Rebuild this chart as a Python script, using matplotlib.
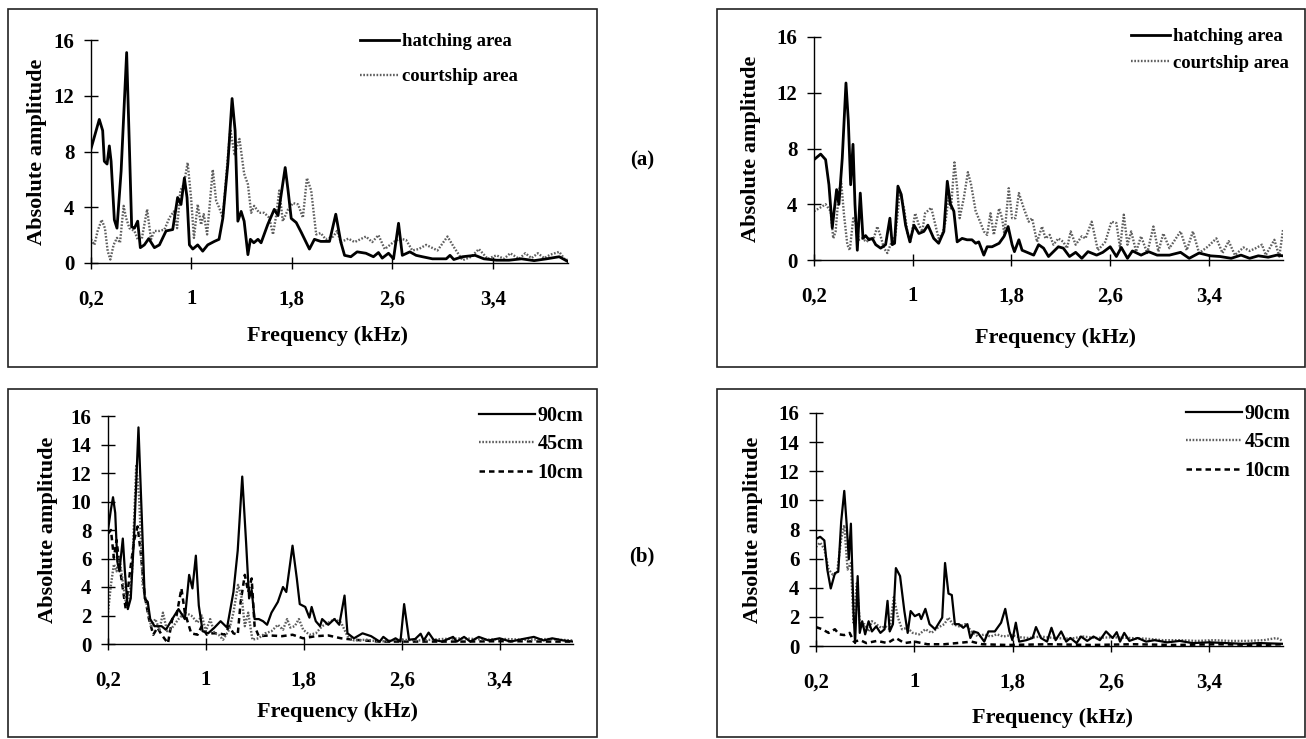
import matplotlib
matplotlib.use('Agg')
import matplotlib.pyplot as plt
from matplotlib.patches import Rectangle

plt.rcParams['font.family'] = ['Liberation Serif', 'DejaVu Serif']
plt.rcParams['font.weight'] = 'bold'

W, H = 1306, 739

xticks = [0.2, 1.0, 1.8, 2.6, 3.4]
xticklabels = ['0,2', '1', '1,8', '2,6', '3,4']

# ---- (a) left: hatching / courtship area
tl_hatch_f = [0.2, 0.266, 0.293, 0.306, 0.328, 0.346, 0.36, 0.386, 0.407, 0.44, 0.484, 0.506, 0.524, 0.546,
              0.572, 0.593, 0.625, 0.66, 0.705, 0.745, 0.798, 0.851, 0.89, 0.917, 0.944, 0.965, 0.984, 1.011,
              1.05, 1.09, 1.13, 1.183, 1.22, 1.25, 1.29, 1.324, 1.348, 1.37, 1.396, 1.42, 1.45, 1.47, 1.497,
              1.53, 1.555, 1.608, 1.66, 1.69, 1.747, 1.77, 1.795, 1.835, 1.875, 1.94, 1.98, 2.03, 2.10, 2.15,
              2.19, 2.22, 2.27, 2.32, 2.39, 2.45, 2.49, 2.52, 2.57, 2.61, 2.65, 2.68, 2.74, 2.79, 2.84, 2.92,
              3.03, 3.06, 3.09, 3.16, 3.26, 3.33, 3.43, 3.53, 3.63, 3.73, 3.83, 3.93, 4.0]
tl_hatch_a = [8.2, 10.3, 9.5, 7.3, 7.1, 8.4, 7.3, 3.1, 2.5, 6.6, 15.1, 8.3, 2.6, 2.5,
              3.0, 1.1, 1.3, 1.75, 1.1, 1.3, 2.3, 2.4, 4.7, 4.2, 6.1, 4.7, 1.3, 1.0,
              1.3, 0.85, 1.3, 1.55, 1.7, 3.2, 7.1, 11.8, 9.5, 3.0, 3.7, 3.0, 0.6, 1.7, 1.45,
              1.7, 1.45, 2.76, 3.85, 3.4, 6.85, 5.2, 3.2, 2.9, 2.2, 1.0, 1.7, 1.55, 1.55, 3.5,
              1.5, 0.55, 0.45, 0.8, 0.7, 0.45, 0.75, 0.35, 0.7, 0.3, 2.85, 0.55, 0.8, 0.55, 0.45, 0.3,
              0.3, 0.55, 0.25, 0.45, 0.55, 0.3, 0.2, 0.2, 0.3, 0.17, 0.3, 0.45, 0.1]
tl_court_f = [0.2, 0.227, 0.253, 0.285, 0.311, 0.333, 0.354, 0.38, 0.407, 0.431, 0.46, 0.479, 0.506, 0.546,
              0.572, 0.604, 0.647, 0.678, 0.705, 0.745, 0.785, 0.825, 0.86, 0.886, 0.912, 0.94, 0.97, 0.997,
              1.02, 1.05, 1.077, 1.098, 1.125, 1.17, 1.197, 1.22, 1.25, 1.29, 1.31, 1.343, 1.383, 1.42, 1.45,
              1.476, 1.5, 1.54, 1.58, 1.62, 1.65, 1.675, 1.70, 1.728, 1.77, 1.81, 1.85, 1.888, 1.92, 1.954,
              1.994, 2.03, 2.07, 2.13, 2.16, 2.19, 2.25, 2.30, 2.39, 2.44, 2.49, 2.54, 2.61, 2.66, 2.71, 2.76,
              2.81, 2.87, 2.96, 3.04, 3.09, 3.16, 3.23, 3.29, 3.36, 3.43, 3.49, 3.54, 3.61, 3.66, 3.71, 3.76,
              3.81, 3.86, 3.93, 3.98, 4.0]
tl_court_a = [1.7, 1.3, 2.3, 3.1, 2.5, 0.85, 0.25, 1.3, 1.8, 1.45, 4.1, 3.25, 2.5, 2.3,
              1.7, 1.7, 3.85, 1.7, 2.3, 2.3, 2.4, 3.25, 3.7, 2.5, 5.2, 5.65, 7.2, 4.7,
              1.8, 4.2, 2.75, 3.5, 2.05, 6.7, 4.45, 4.0, 3.25, 7.6, 9.6, 7.8, 8.9, 6.4, 5.65,
              3.6, 4.1, 3.6, 3.6, 3.25, 2.05, 3.4, 5.2, 3.0, 3.85, 4.3, 4.2, 3.25, 6.1, 5.2,
              2.05, 2.15, 1.7, 1.9, 2.3, 1.5, 1.75, 1.5, 1.9, 1.5, 2.0, 1.0, 1.5, 1.75, 1.65, 0.9,
              1.0, 1.3, 0.9, 1.9, 1.15, 0.2, 0.45, 1.0, 0.3, 0.55, 0.3, 0.7, 0.3, 0.7, 0.35, 0.7,
              0.35, 0.6, 0.8, 0.2, 0.25]

# ---- (a) right
tr_hatch_f = [0.2, 0.254, 0.294, 0.321, 0.348, 0.383, 0.402, 0.429, 0.459, 0.478, 0.497, 0.516, 0.532, 0.551,
              0.575, 0.597, 0.618, 0.645, 0.672, 0.70, 0.74, 0.78, 0.815, 0.834, 0.853, 0.88, 0.907, 0.942,
              0.977, 1.01, 1.05, 1.09, 1.123, 1.17, 1.21, 1.252, 1.28, 1.306, 1.333, 1.36, 1.40, 1.44, 1.48,
              1.51, 1.535, 1.576, 1.603, 1.643, 1.70, 1.74, 1.773, 1.805, 1.824, 1.86, 1.886, 1.94, 1.98, 2.02,
              2.06, 2.10, 2.14, 2.18, 2.22, 2.27, 2.32, 2.37, 2.42, 2.49, 2.54, 2.60, 2.65, 2.69, 2.74, 2.78,
              2.85, 2.91, 2.98, 3.08, 3.17, 3.24, 3.32, 3.41, 3.49, 3.58, 3.66, 3.73, 3.80, 3.88, 3.95, 4.0]
tr_hatch_a = [7.2, 7.6, 7.2, 5.4, 2.3, 5.05, 4.0, 7.3, 12.7, 10.0, 5.4, 8.3, 4.0, 0.7,
              4.8, 1.55, 1.75, 1.45, 1.55, 1.1, 0.85, 1.1, 3.0, 1.1, 1.2, 5.3, 4.7, 2.5,
              1.3, 2.5, 1.9, 2.05, 2.5, 1.55, 1.2, 2.05, 5.65, 4.0, 3.5, 1.3, 1.55, 1.45, 1.45,
              1.2, 1.3, 0.35, 0.95, 0.95, 1.2, 1.7, 2.4, 1.1, 0.6, 1.45, 0.7, 0.5, 0.35, 1.1,
              0.85, 0.25, 0.6, 0.95, 0.85, 0.25, 0.55, 0.12, 0.6, 0.35, 0.55, 0.95, 0.25, 0.9, 0.12, 0.65,
              0.35, 0.6, 0.35, 0.35, 0.55, 0.12, 0.5, 0.3, 0.25, 0.12, 0.35, 0.12, 0.3, 0.2, 0.35, 0.3]
tr_court_f = [0.2, 0.24, 0.294, 0.335, 0.356, 0.375, 0.402, 0.42, 0.443, 0.47, 0.49, 0.518, 0.537, 0.564,
              0.59, 0.626, 0.653, 0.68, 0.713, 0.74, 0.767, 0.794, 0.82, 0.86, 0.896, 0.93, 0.96, 0.98,
              1.02, 1.05, 1.077, 1.10, 1.15, 1.177, 1.21, 1.24, 1.266, 1.29, 1.31, 1.338, 1.36, 1.38, 1.414,
              1.447, 1.473, 1.51, 1.55, 1.576, 1.603, 1.63, 1.657, 1.70, 1.724, 1.743, 1.778, 1.805, 1.832,
              1.86, 1.90, 1.94, 1.967, 2.007, 2.048, 2.075, 2.11, 2.14, 2.18, 2.22, 2.25, 2.28, 2.32, 2.37,
              2.40, 2.45, 2.50, 2.56, 2.61, 2.65, 2.68, 2.71, 2.74, 2.77, 2.81, 2.85, 2.90, 2.95, 2.99, 3.03,
              3.08, 3.17, 3.22, 3.27, 3.32, 3.39, 3.46, 3.51, 3.56, 3.61, 3.68, 3.73, 3.78, 3.83, 3.86, 3.93,
              3.97, 4.0]
tr_court_a = [3.5, 3.7, 4.0, 3.5, 1.55, 2.05, 4.9, 5.65, 3.25, 1.1, 0.7, 3.0, 2.75, 1.45,
              1.55, 1.3, 1.55, 1.45, 2.4, 1.7, 0.85, 0.5, 1.1, 1.8, 4.9, 3.7, 1.8, 1.3,
              3.35, 2.5, 2.05, 3.35, 3.75, 2.75, 1.55, 1.9, 2.75, 4.45, 3.7, 7.0, 5.15, 3.0, 4.45,
              6.3, 5.4, 3.5, 2.65, 2.05, 1.8, 3.35, 1.8, 3.7, 3.0, 1.8, 5.15, 3.0, 3.0,
              4.8, 3.7, 2.75, 3.0, 1.3, 2.4, 1.55, 1.8, 1.1, 1.55, 1.3, 0.85, 2.05, 1.1, 1.7,
              1.55, 2.75, 0.7, 1.3, 2.75, 2.65, 0.85, 3.25, 1.1, 2.05, 0.6, 1.7, 0.5, 2.4, 0.6, 1.9,
              0.85, 2.05, 0.7, 2.05, 0.5, 0.95, 1.55, 0.5, 1.35, 0.35, 0.9, 0.65, 0.85, 1.1, 0.35, 1.45,
              0.25, 2.15]

# ---- (b) left: 90cm / 45cm / 10cm
bl_90_f = [0.2, 0.224, 0.241, 0.259, 0.276, 0.293, 0.321, 0.338, 0.362, 0.386, 0.414, 0.449, 0.476, 0.5,
           0.525, 0.545, 0.58, 0.638, 0.673, 0.725, 0.776, 0.828, 0.863, 0.89, 0.918, 0.942, 0.973, 1.018,
           1.07, 1.12, 1.173, 1.225, 1.26, 1.297, 1.329, 1.353, 1.374, 1.398, 1.432, 1.467, 1.5, 1.536,
           1.588, 1.63, 1.657, 1.708, 1.743, 1.767, 1.812, 1.846, 1.864, 1.898, 1.933, 1.95, 2.0, 2.05,
           2.09, 2.133, 2.157, 2.21, 2.28, 2.35, 2.42, 2.45, 2.5, 2.55, 2.59, 2.62, 2.66, 2.71, 2.755,
           2.78, 2.82, 2.86, 2.93, 3.02, 3.05, 3.11, 3.16, 3.23, 3.31, 3.4, 3.49, 3.59, 3.68, 3.76, 3.83,
           3.92, 4.0]
bl_90_a = [8.0, 9.45, 10.3, 9.2, 5.8, 5.1, 7.4, 5.1, 2.45, 3.2, 7.75, 15.2, 8.95, 3.2,
           2.95, 1.75, 1.25, 1.25, 1.0, 1.75, 2.45, 1.75, 4.85, 3.9, 6.2, 2.7, 0.9, 0.75,
           1.15, 1.6, 1.15, 3.65, 6.55, 11.75, 7.05, 3.2, 3.8, 1.75, 1.75, 1.6, 1.35, 2.2,
           2.95, 4.0, 3.65, 6.9, 4.6, 2.8, 2.6, 1.85, 2.6, 1.6, 1.25, 1.75, 1.35, 1.75,
           1.35, 3.4, 0.75, 0.4, 0.75, 0.55, 0.17, 0.5, 0.17, 0.4, 0.17, 2.8, 0.3, 0.35, 0.72,
           0.25, 0.8, 0.3, 0.17, 0.5, 0.17, 0.5, 0.17, 0.5, 0.25, 0.4, 0.17, 0.35, 0.5, 0.25, 0.4,
           0.25, 0.17]
bl_45_f = [0.2, 0.224, 0.248, 0.27, 0.293, 0.317, 0.345, 0.373, 0.397, 0.431, 0.455, 0.483, 0.518, 0.552,
           0.587, 0.621, 0.649, 0.683, 0.725, 0.776, 0.828, 0.88, 0.932, 0.966, 1.0, 1.035, 1.07, 1.104,
           1.14, 1.19, 1.225, 1.263, 1.294, 1.318, 1.346, 1.38, 1.43, 1.484, 1.536, 1.588, 1.63, 1.664,
           1.69, 1.726, 1.76, 1.795, 1.846, 1.898, 1.95, 2.0, 2.053, 2.105, 2.157, 2.21, 2.31, 2.42, 2.59,
           2.76, 2.93, 3.11, 3.28, 3.45, 3.62, 3.79, 4.0]
bl_45_a = [2.2, 4.15, 5.6, 5.1, 6.05, 4.6, 2.95, 3.2, 5.1, 12.6, 10.15, 4.15, 2.7, 1.25,
           1.75, 1.0, 2.2, 0.9, 1.15, 1.75, 2.2, 2.0, 1.5, 2.0, 0.9, 1.75, 0.75, 0.65,
           0.3, 1.0, 2.2, 4.15, 3.2, 1.25, 2.2, 0.3, 0.4, 0.75, 0.9, 1.35, 1.0, 1.75,
           1.15, 1.25, 1.75, 1.0, 0.65, 0.75, 1.25, 1.5, 1.75, 1.5, 0.55, 0.25, 0.3, 0.17, 0.3,
           0.25, 0.35, 0.4, 0.3, 0.35, 0.3, 0.35, 0.25]
bl_10_f = [0.2, 0.224, 0.248, 0.27, 0.293, 0.317, 0.345, 0.38, 0.414, 0.442, 0.466, 0.5, 0.535, 0.57,
           0.604, 0.638, 0.69, 0.725, 0.76, 0.8, 0.828, 0.88, 0.932, 0.966, 1.008, 1.053, 1.104, 1.156,
           1.19, 1.225, 1.26, 1.284, 1.318, 1.346, 1.374, 1.398, 1.432, 1.52, 1.622, 1.708, 1.795, 1.898,
           2.0, 2.105, 2.21, 2.42, 2.76, 3.11, 3.45, 3.8, 4.0]
bl_10_a = [7.75, 8.0, 6.05, 7.3, 5.6, 4.15, 2.45, 5.1, 7.3, 8.25, 6.55, 3.4, 1.75, 0.65,
           1.15, 0.65, 0.05, 1.75, 2.0, 3.9, 2.2, 0.75, 0.65, 1.25, 0.65, 0.75, 0.75, 0.65,
           1.25, 0.75, 0.65, 2.95, 4.85, 3.65, 4.6, 1.25, 0.55, 0.6, 0.55, 0.65, 0.4, 0.55,
           0.6, 0.4, 0.3, 0.17, 0.17, 0.17, 0.2, 0.17, 0.17]

# ---- (b) right
br_90_f = [0.2, 0.234, 0.268, 0.292, 0.32, 0.354, 0.381, 0.405, 0.43, 0.45, 0.467, 0.484, 0.505, 0.518,
           0.539, 0.556, 0.576, 0.6, 0.628, 0.655, 0.69, 0.724, 0.758, 0.782, 0.8, 0.826, 0.85, 0.884,
           0.919, 0.946, 0.97, 1.004, 1.04, 1.056, 1.09, 1.124, 1.169, 1.227, 1.25, 1.278, 1.305, 1.33,
           1.363, 1.398, 1.432, 1.456, 1.483, 1.518, 1.569, 1.603, 1.655, 1.706, 1.74, 1.774, 1.798, 1.826,
           1.853, 1.911, 1.962, 1.99, 2.03, 2.08, 2.116, 2.15, 2.195, 2.236, 2.27, 2.32, 2.356, 2.407,
           2.458, 2.51, 2.56, 2.613, 2.647, 2.674, 2.708, 2.75, 2.818, 2.886, 2.955, 3.058, 3.16, 3.263,
           3.4, 3.537, 3.674, 3.81, 4.0]
br_90_a = [7.35, 7.5, 7.25, 5.25, 3.95, 5.0, 5.1, 8.55, 10.65, 8.3, 5.95, 8.4, 2.4, 0.2,
           4.8, 0.9, 1.7, 0.8, 1.7, 1.0, 1.35, 0.9, 1.15, 3.1, 1.0, 1.5, 5.35, 4.8,
           2.4, 0.9, 2.4, 2.05, 2.2, 1.85, 2.55, 1.5, 1.15, 1.95, 5.7, 3.6, 3.5, 1.5,
           1.5, 1.25, 1.5, 0.55, 1.0, 0.9, 0.3, 1.0, 1.0, 1.6, 2.55, 1.0, 0.4, 1.6,
           0.3, 0.4, 0.55, 1.3, 0.55, 0.3, 1.25, 0.4, 1.0, 0.3, 0.55, 0.2, 0.65, 0.35,
           0.65, 0.4, 1.0, 0.55, 0.95, 0.3, 0.9, 0.35, 0.55, 0.3, 0.4, 0.25, 0.35, 0.2,
           0.25, 0.2, 0.15, 0.2, 0.15]
br_45_f = [0.2, 0.234, 0.268, 0.303, 0.337, 0.371, 0.405, 0.43, 0.457, 0.484, 0.505, 0.532, 0.56, 0.594,
           0.628, 0.655, 0.69, 0.73, 0.765, 0.8, 0.833, 0.867, 0.9, 0.943, 0.987, 1.04, 1.09, 1.14,
           1.19, 1.244, 1.278, 1.312, 1.363, 1.415, 1.466, 1.518, 1.569, 1.62, 1.672, 1.723, 1.79, 1.86,
           1.93, 2.03, 2.134, 2.27, 2.373, 2.476, 2.613, 2.75, 2.886, 3.023, 3.16, 3.297, 3.434, 3.571,
           3.708, 3.845, 3.947, 4.0]
br_45_a = [6.8, 7.1, 6.65, 5.25, 4.9, 5.0, 7.35, 8.3, 5.25, 5.7, 1.6, 4.3, 1.25, 1.5,
           1.0, 1.7, 1.5, 1.25, 1.35, 1.15, 3.35, 1.95, 1.15, 1.25, 0.9, 0.8, 1.15, 0.9,
           1.25, 1.5, 1.95, 1.5, 1.35, 1.5, 1.0, 0.65, 0.8, 0.65, 0.8, 0.65, 0.75, 0.6,
           0.55, 0.65, 0.55, 0.5, 0.65, 0.55, 0.6, 0.55, 0.5, 0.4, 0.4, 0.35, 0.4, 0.35,
           0.35, 0.4, 0.55, 0.35]
br_10_f = [0.2, 0.251, 0.303, 0.354, 0.388, 0.43, 0.474, 0.508, 0.56, 0.61, 0.696, 0.782, 0.85, 0.919,
           1.004, 1.107, 1.244, 1.346, 1.466, 1.552, 1.757, 2.1, 2.44, 2.78, 3.126, 3.47, 3.81, 4.0]
br_10_a = [1.3, 1.15, 0.9, 1.15, 0.8, 0.75, 0.9, 0.3, 0.4, 0.2, 0.35, 0.2, 0.55, 0.2,
           0.3, 0.12, 0.12, 0.2, 0.3, 0.12, 0.07, 0.12, 0.07, 0.12, 0.07, 0.12, 0.07, 0.12]

solid = dict(color='black', lw=2.0, ls='-')
dotted = dict(color='#5e5e5e', lw=1.7, ls=(0, (0.7, 0.7)))
dashed = dict(color='black', lw=1.8, ls=(0, (2.2, 1.6)))


def px_axes(x0, x1, y16, y0):
    return [x0 / W, 1 - y0 / H, (x1 - x0) / W, (y0 - y16) / H]


def style(ax, yticks, ylab_x, xlab_x, xlab_y):
    ax.set_xlim(0.2, 4.0)
    ax.set_ylim(0, 16)
    ax.spines['top'].set_visible(False)
    ax.spines['right'].set_visible(False)
    ax.spines['left'].set_linewidth(1.0)
    ax.spines['bottom'].set_linewidth(1.0)
    ax.set_xticks(xticks)
    ax.set_xticklabels(xticklabels)
    ax.set_yticks(yticks)
    ax.set_yticklabels([str(v) for v in yticks])
    ax.tick_params(axis='y', direction='inout', length=10, width=1, pad=7, labelsize=15)
    ax.tick_params(axis='x', direction='inout', length=8, width=1, pad=15, labelsize=15)
    for t in ax.get_xticklabels() + ax.get_yticklabels():
        t.set_fontweight('bold')
    ax.set_ylabel('Absolute amplitude', fontsize=16, fontweight='bold')
    ax.set_xlabel('Frequency (kHz)', fontsize=16, fontweight='bold')
    ax.yaxis.set_label_coords(ylab_x, 0.5)
    ax.yaxis.label.set_va('center')
    ax.xaxis.set_label_coords(xlab_x, xlab_y)
    ax.xaxis.label.set_va('center')
    ax.patch.set_visible(False)


def add_legend(ax, x, y, hl, tp, ls, size):
    h, l = ax.get_legend_handles_labels()
    ax.legend(h[::-1], l[::-1], loc='upper left', bbox_to_anchor=(x / W, 1 - y / H),
              bbox_transform=fig.transFigure, frameon=False, borderpad=0, borderaxespad=0,
              handlelength=hl, handletextpad=tp, labelspacing=ls,
              prop={'family': 'Liberation Serif', 'weight': 'bold', 'size': size})


fig = plt.figure(figsize=(W / 100, H / 100), dpi=100)

# panel frames
for (x0, y0, x1, y1) in [(8, 9, 597, 367), (717, 9, 1305, 367), (8, 389, 597, 737), (717, 389, 1305, 737)]:
    fig.add_artist(Rectangle((x0 / W, 1 - y1 / H), (x1 - x0) / W, (y1 - y0) / H,
                             transform=fig.transFigure, fill=False, lw=1.2, ec='#222222'))

ax1 = fig.add_axes(px_axes(91, 568, 40, 263))
ax1.plot(tl_court_f, tl_court_a, label='courtship area', **dotted)
ax1.plot(tl_hatch_f, tl_hatch_a, label='hatching area', **solid)
style(ax1, [0, 4, 8, 12, 16], (37 - 91) / 477, 0.495, (263 - 336) / 223)
add_legend(ax1, 360, 33, 2.1, 0.15, 0.95, 13.5)

ax2 = fig.add_axes(px_axes(814, 1283, 37, 260))
ax2.plot(tr_court_f, tr_court_a, label='courtship area', **dotted)
ax2.plot(tr_hatch_f, tr_hatch_a, label='hatching area', **solid)
style(ax2, [0, 4, 8, 12, 16], (751 - 814) / 469, 0.514, (260 - 338) / 223)
add_legend(ax2, 1131, 28, 2.1, 0.15, 0.5, 13.5)

ax3 = fig.add_axes(px_axes(108, 573, 416, 644))
ax3.plot(bl_10_f, bl_10_a, label='10cm', **dashed)
ax3.plot(bl_45_f, bl_45_a, label='45cm', **dotted)
ax3.plot(bl_90_f, bl_90_a, label='90cm', **dict(solid, lw=1.6))
style(ax3, list(range(0, 17, 2)), (48 - 108) / 465, 0.494, (644 - 712) / 228)
add_legend(ax3, 479, 406, 2.8, 0.1, 0.42, 14.5)

ax4 = fig.add_axes(px_axes(816, 1283, 413, 646))
ax4.plot(br_10_f, br_10_a, label='10cm', **dashed)
ax4.plot(br_45_f, br_45_a, label='45cm', **dotted)
ax4.plot(br_90_f, br_90_a, label='90cm', **dict(solid, lw=1.6))
style(ax4, list(range(0, 17, 2)), (753 - 816) / 467, 0.507, (646 - 718) / 233)
add_legend(ax4, 1186, 404, 2.8, 0.1, 0.42, 14.5)

fig.text(642 / W, 1 - 160 / H, '(a)', fontsize=15, fontweight='bold', ha='center', va='center')
fig.text(642 / W, 1 - 556 / H, '(b)', fontsize=15, fontweight='bold', ha='center', va='center')

fig.savefig('out.png', dpi=100, facecolor='white')
